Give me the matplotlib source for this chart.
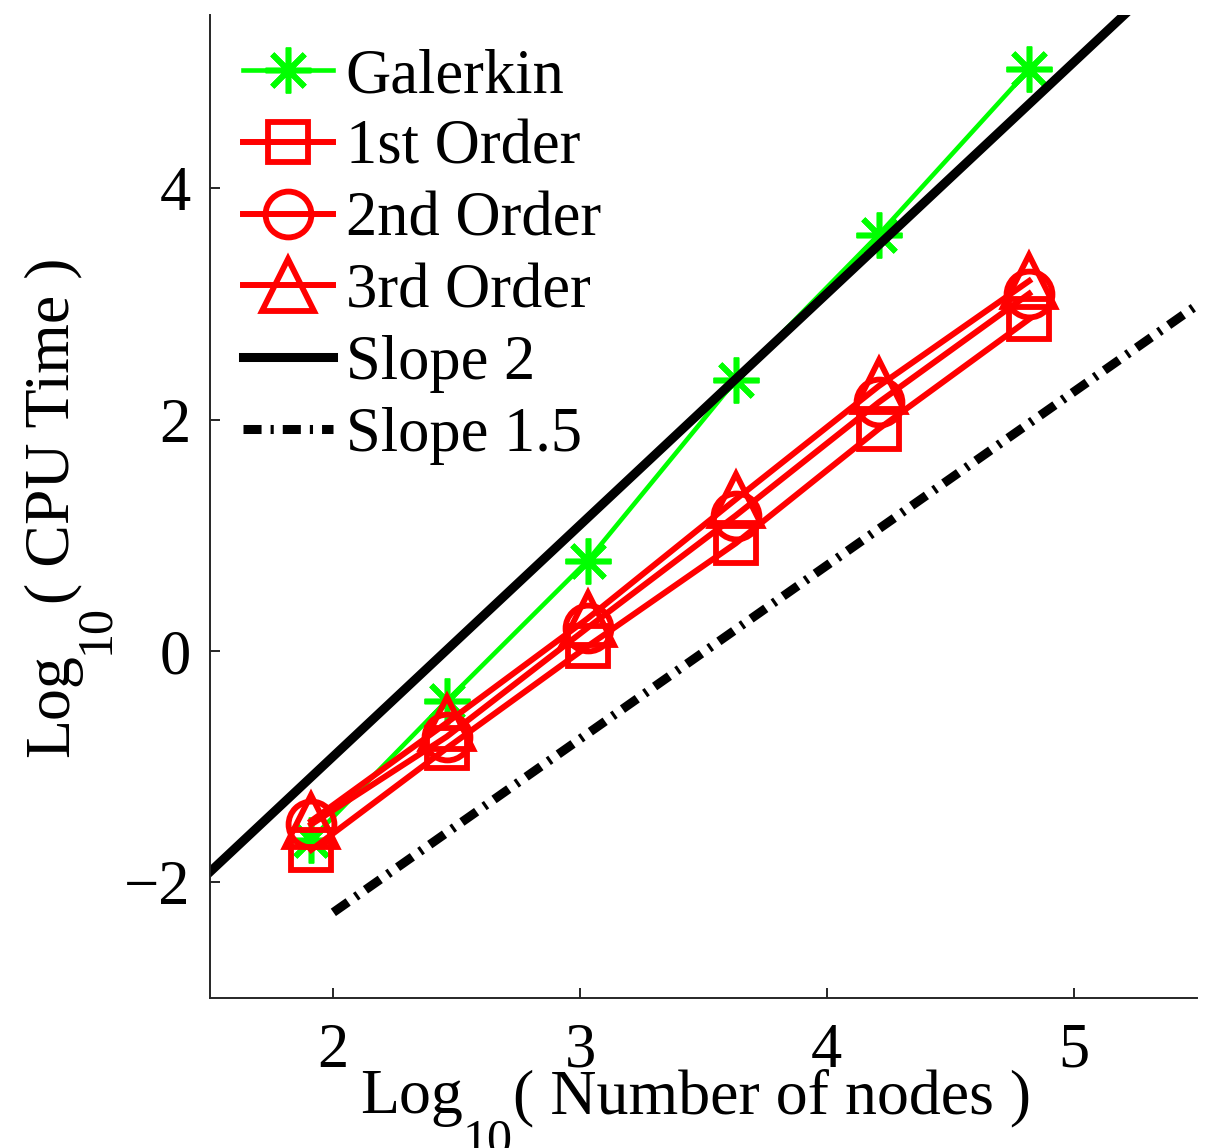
import numpy as np
import matplotlib.pyplot as plt

plt.rcParams['font.family'] = ['Liberation Serif', 'DejaVu Serif']

# log10 of number of nodes
nodes = [1.91, 2.46, 3.03, 3.63, 4.21, 4.82]

# log10 of CPU time
galerkin = [-1.63, -0.43, 0.78, 2.34, 3.60, 5.03]
order1 = [-1.72, -0.84, 0.04, 0.93, 1.92, 2.87]
order2 = [-1.50, -0.74, 0.20, 1.17, 2.15, 3.09]
order3 = [-1.47, -0.62, 0.28, 1.31, 2.29, 3.20]

# reference lines (end points)
slope2_x = [1.5, 5.5]
slope2_y = [-1.91, 6.09]
slope15_x = [2.0, 5.5]
slope15_y = [-2.26, 2.99]

fs = 45
lab_fs = 46
sub_fs = 36
W, H = 1213, 1148
fig = plt.figure(figsize=(W / 100, H / 100), dpi=100)
ax = fig.add_axes([0.1731, 0.1307, 0.8137, 0.8563])

star = (8, 2, 0)  # 8-armed asterisk like matlab '*'
ax.plot(nodes, galerkin, color='#00ff00', lw=3.3, marker=star, ms=33, mew=4,
        label='Galerkin')
ax.plot(nodes, order1, color='red', lw=4.3, marker='s', ms=29, mew=4.2,
        mfc='none', label='1st Order')
ax.plot(nodes, order2, color='red', lw=4.3, marker='o', ms=33, mew=4.2,
        mfc='none', label='2nd Order')
ax.plot(nodes, order3, color='red', lw=4.3, marker='^', ms=38, mew=4.2,
        mfc='none', label='3rd Order')
ax.plot(slope2_x, slope2_y, color='black', lw=6.5, label='Slope 2')
ax.plot(slope15_x, slope15_y, color='black', lw=6.5,
        linestyle=(0, (2, 1, 0.35, 1)), label='Slope 1.5')

ax.set_xlim(1.5, 5.5)
ax.set_ylim(-3, 5.5)
ax.set_xticks([2, 3, 4, 5])
ax.set_yticks([-2, 0, 2, 4])
ax.tick_params(direction='in', length=7, width=1.4, labelsize=fs, color='#262626')
ax.tick_params(axis='x', pad=18)
ax.tick_params(axis='y', pad=14)
for s in ['top', 'right']:
    ax.spines[s].set_visible(False)
for s in ['left', 'bottom']:
    ax.spines[s].set_linewidth(1.4)
    ax.spines[s].set_color('#262626')

# axis labels built from pieces so the subscript looks like matlab's
xb = H - 1113  # baseline of x label, figure pixels from bottom
t1 = fig.text(360 / W, xb / H, 'Log', ha='left', va='baseline', fontsize=lab_fs)
t2 = ax.annotate('10', xy=(1, xb - 40), xycoords=(t1, 'figure pixels'),
                 ha='left', va='baseline', fontsize=sub_fs, annotation_clip=False)
ax.annotate('( Number of nodes )', xy=(1, xb), xycoords=(t2, 'figure pixels'),
            ha='left', va='baseline', fontsize=lab_fs, annotation_clip=False)

yb = 68  # baseline of y label, figure pixels from left
y1 = fig.text(yb / W, (H - 757) / H, 'Log', rotation=90, rotation_mode='anchor',
              ha='left', va='baseline', fontsize=lab_fs)
y2 = ax.annotate('10', xy=(yb + 40, 1), xycoords=('figure pixels', y1),
                 rotation=90, rotation_mode='anchor', ha='left', va='baseline',
                 fontsize=sub_fs, annotation_clip=False)
ax.annotate('( CPU Time )', xy=(yb, 1), xycoords=('figure pixels', y2),
            rotation=90, rotation_mode='anchor', ha='left', va='baseline',
            fontsize=lab_fs, annotation_clip=False)

ax.legend(loc='upper left', frameon=False, fontsize=fs, handlelength=1.44,
          handletextpad=0.2, labelspacing=0.22, borderaxespad=0.13,
          borderpad=0.4)

fig.savefig('out.png', dpi=100)
